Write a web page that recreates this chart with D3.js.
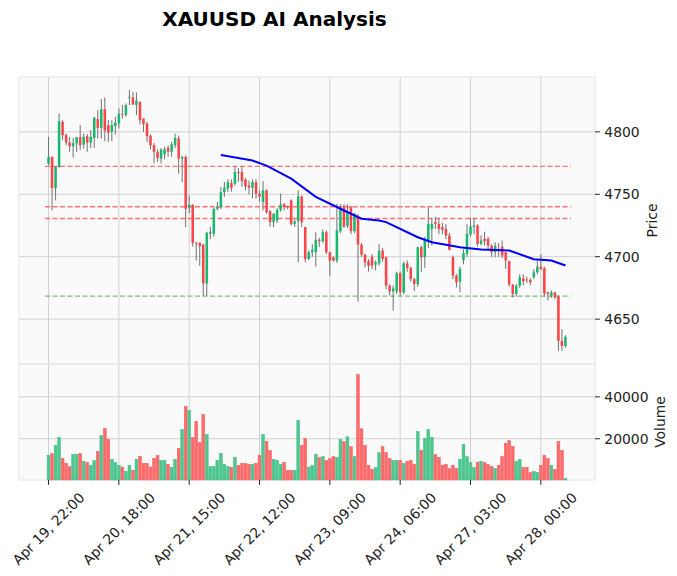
<!DOCTYPE html>
<html><head><meta charset="utf-8">
<script src="https://cdn.jsdelivr.net/npm/d3@7"></script>
<style>body{margin:0;background:#fff}svg{display:block}text{font-family:"DejaVu Sans",sans-serif}</style>
</head><body><div id="chart"></div>
<script>
const opens  = [4774.6,4779.9,4755,4771.9,4808.1,4797.4,4791.4,4788.5,4790.6,4795.7,4789.8,4796.5,4791.4,4795.2,4810.2,4803.2,4818.2,4805.4,4800,4804.6,4806.7,4814.2,4813.4,4827.4,4827.6,4821.5,4824.1,4810.7,4806.7,4796.8,4789.3,4784,4778.6,4782,4787.4,4784,4789.3,4794.7,4778.6,4779.9,4739.5,4741.6,4711.1,4711,4709.7,4678.6,4718.3,4718.3,4738.4,4739.7,4751.8,4754.5,4759,4758.5,4767.9,4767.9,4761.7,4757.2,4755.3,4759.8,4750.5,4743.8,4753.1,4736.5,4727.7,4729,4737.6,4741.9,4740.5,4745.1,4726.3,4728.5,4748.3,4723.7,4698.2,4703.6,4703.6,4713.7,4712.4,4719.6,4703.6,4699.5,4696.9,4720.4,4740.3,4724.5,4739.7,4720.5,4731.7,4709.7,4701.7,4696.3,4700,4693.6,4694.7,4704.9,4699.6,4676.8,4672.2,4672.2,4686.7,4671.4,4694.7,4691,4682.1,4678.1,4707.6,4699.6,4712.9,4722.3,4727.7,4726.3,4723.7,4722.3,4717,4699.6,4684.8,4680,4697.4,4702.2,4717.8,4723.7,4725,4710.3,4714.3,4714.3,4708.9,4703.6,4706.2,4708.1,4703.6,4696.3,4677.6,4670.1,4676.8,4682.7,4681.8,4681.3,4683.5,4687.5,4692,4691,4671.4,4668.7,4671.4,4668,4632.6,4628.5];
const highs  = [4796,4780.5,4772,4814.8,4809.4,4798.7,4796,4795.2,4796,4805.4,4798.7,4798.2,4801.4,4812,4817.4,4826.3,4827.6,4809.4,4809.4,4812,4818.8,4821.5,4822.8,4833.5,4832.2,4831.6,4824.1,4810.7,4808,4798,4791,4786,4787,4788,4789,4792,4798.6,4797,4781,4781,4749,4742,4712,4711.5,4710.3,4720,4724,4738.8,4743.8,4755.8,4760,4762,4762,4772.4,4771,4772.4,4763,4761,4762,4762,4753,4760.6,4754,4737,4735,4739,4750.5,4743,4741,4746,4730,4753.1,4749,4724,4705,4710,4719.6,4715,4722,4721,4704,4700,4742.4,4742,4742,4742,4741,4735,4734,4711,4702,4698,4702,4697,4710.3,4707,4700,4678,4677,4688,4688,4696,4697,4692,4683,4708,4709,4716,4739.7,4731,4732,4731,4727,4726,4719,4701,4686,4692,4706,4726,4731.2,4731,4726,4717,4720,4716,4710,4711.6,4711,4713,4704,4697,4678,4678,4686,4686,4684,4683,4690,4697,4702,4692,4672,4673,4672,4669,4642,4637];
const lows   = [4773.2,4737,4745.1,4771.1,4793.3,4789.3,4784,4779.4,4784,4785.3,4786.6,4784,4787.2,4787.2,4794.7,4794.7,4792.5,4792,4792.5,4797.9,4802.7,4810.7,4812.1,4821.5,4821.5,4813.4,4805.9,4800,4792,4786,4774.6,4776,4774.6,4778,4780,4780,4787,4766.5,4759.8,4723.7,4735,4708,4696.9,4692.8,4668.7,4668.7,4714,4716,4737,4738,4748,4752,4752,4757,4760,4756,4753,4750,4747,4746.4,4744,4737,4734.4,4724,4723.7,4727,4736,4737,4738,4725,4724,4695.5,4723.7,4695.5,4697,4700,4692,4708,4711,4702,4684.8,4696,4695,4719,4723,4723,4718,4719,4663.9,4700,4691.5,4688,4690,4689,4693,4696,4674,4669,4656.7,4670,4668.7,4670,4688,4680,4672.5,4676,4688,4691,4707,4709,4722,4718,4718,4714,4705,4682,4675.4,4671.4,4694,4700,4716,4718,4708,4709,4709,4706,4699.6,4699.6,4700,4699,4690,4676,4667.4,4668,4675,4677,4679,4677,4682,4686,4689,4668,4665,4667,4666,4624.5,4624.5,4627];
const closes = [4779.9,4755,4771.9,4808.6,4797.4,4791.4,4788.5,4790.9,4795.7,4789.3,4796,4791.4,4796,4811.3,4803.2,4818.2,4801.1,4799.2,4805.4,4807.3,4814.2,4813.7,4821.5,4828.2,4822,4825,4809.4,4806.2,4796.5,4789.3,4784,4779,4785.8,4786,4784,4790,4795.2,4778.6,4779.9,4738.4,4741.6,4711.1,4710.5,4708.4,4678.6,4719.1,4719.6,4738.4,4740.3,4751.8,4755.3,4759.8,4755.3,4767.9,4767,4760.6,4756.3,4755.3,4759.8,4750.5,4748,4753.1,4735.7,4727.7,4734.4,4737.6,4741.9,4739.7,4739.7,4726.3,4728.2,4748.3,4727.7,4698.2,4703.6,4705.4,4713.5,4712.4,4719.6,4703.6,4696.9,4696.9,4721,4738.4,4724.2,4735.7,4720.5,4734.4,4709.7,4701.7,4695.5,4692.8,4692.8,4695.5,4704.9,4698.2,4676.8,4672.2,4674.6,4686.7,4671.4,4694.7,4691,4682.1,4678.1,4707.6,4699.6,4714.3,4726.3,4726.3,4726.3,4722.3,4721.5,4717,4705.4,4684.8,4679.5,4690.2,4702.8,4718.3,4724.2,4725,4710.3,4713,4712.4,4708.9,4703.6,4708.9,4704.9,4700.9,4696.9,4677.6,4670.1,4676.8,4683.5,4680.2,4681,4679.5,4687.5,4692,4690.2,4670.6,4670,4671.4,4667.4,4632.6,4628.5,4635.8];
const volumes = [12056,12850,16817,20626,10628,8247,6660,12532,12532,13006,9200,8565,7296,9676,13960,21578,24910,19674,10152,8565,7296,6502,4438,7296,4914,10152,11580,8247,8247,6502,10628,12056,9676,9676,7772,6343,10152,15390,24435,35385,33481,20626,28244,18245,31577,22054,6818,6818,9676,13006,7772,6818,6343,11104,7296,8247,8247,7772,7772,8247,12056,22054,18721,14436,10152,9676,7772,8724,4914,4914,4914,28720,16817,20150,6500,7296,12532,10945,11422,9676,10469,11422,11104,19674,18562,20943,16182,11422,50620,24752,16817,7296,5391,6184,13324,16182,13324,10469,9676,9676,9676,8247,9200,9676,7772,23483,14436,20150,24435,20626,12374,11104,7296,7772,5708,7296,5708,10152,17294,11422,8724,6184,8724,9200,8724,7772,6818,5867,7296,11580,17770,19198,16341,9200,10152,6343,6343,3803,4438,3962,7296,12056,10469,7296,5391,18721,14436,1000];
const tickIndex  = [0,20,40,60,80,100,120,140];
const tickLabels = ["Apr 19, 22:00","Apr 20, 18:00","Apr 21, 15:00","Apr 22, 12:00","Apr 23, 09:00","Apr 24, 06:00","Apr 27, 03:00","Apr 28, 00:00"];
const priceTicks  = [4650,4700,4750,4800];
const volumeTicks = [20000,40000];
const redLevels   = [4772.4,4740,4730.6];
const greenLevels = [4668.5];
const aiLineIndex = [49,58,62,69,76,83,89,94,96,105,109,117,123,131,138,143,147];
const aiLineValue = [4781.5,4777,4773,4762.5,4748,4738.4,4730.4,4729,4727.7,4715.6,4711.6,4707.6,4705.7,4705,4698,4697,4693];
const title = "XAUUSD AI Analysis";

const W=677,H=576, L=19, R=595, pTop=77, pBot=364, vTop=364, vBot=480, xPad=8.4;
const N = closes.length;
const svg = d3.select("#chart").append("svg").attr("width",W).attr("height",H);

const x = d3.scaleLinear().domain([-xPad, N-1+xPad]).range([L,R]);
const step = x(1)-x(0);
const minL = d3.min(lows), maxH = d3.max(highs), rng = maxH-minL;
const y = d3.scaleLinear().domain([minL-0.05*rng, maxH+0.05*rng]).range([pBot,pTop]);
const yv = d3.scaleLinear().domain([0.3*d3.min(volumes), 1.1*d3.max(volumes)]).range([vBot,vTop]);

const up='#19b76f', down='#fe4446', wick='#717171';
const vup='#4dc790', vdown='#fd6b6c';

svg.append("rect").attr("x",L).attr("y",pTop).attr("width",R-L).attr("height",pBot-pTop).attr("fill","#fafafa");
svg.append("rect").attr("x",L).attr("y",vTop).attr("width",R-L).attr("height",vBot-vTop).attr("fill","#fafafa");

const grid = svg.append("g").attr("stroke","#d0d0d0").attr("stroke-width",1);
tickIndex.forEach(i=>{
  grid.append("line").attr("x1",x(i)).attr("x2",x(i)).attr("y1",pTop).attr("y2",pBot);
  grid.append("line").attr("x1",x(i)).attr("x2",x(i)).attr("y1",vTop).attr("y2",vBot);
});
priceTicks.forEach(p=>grid.append("line").attr("x1",L).attr("x2",R).attr("y1",y(p)).attr("y2",y(p)));
volumeTicks.forEach(v=>grid.append("line").attr("x1",L).attr("x2",R).attr("y1",yv(v)).attr("y2",yv(v)));

svg.append("rect").attr("x",L).attr("y",pTop).attr("width",R-L).attr("height",pBot-pTop).attr("fill","none").attr("stroke","#e4e4e4");
svg.append("rect").attr("x",L).attr("y",vTop).attr("width",R-L).attr("height",vBot-vTop).attr("fill","none").attr("stroke","#e4e4e4");

const lv = svg.append("g").attr("stroke-width",1.3).attr("stroke-dasharray","5,2.5").attr("fill","none");
redLevels.forEach(p=>lv.append("line").attr("x1",x(-1)).attr("x2",x(N+0.5)).attr("y1",y(p)).attr("y2",y(p)).attr("stroke","#fd7272"));
greenLevels.forEach(p=>lv.append("line").attr("x1",x(-1)).attr("x2",x(N+0.5)).attr("y1",y(p)).attr("y2",y(p)).attr("stroke","#7dbd7d"));

const cg = svg.append("g");
const bw = step*0.72;
for(let i=0;i<N;i++){
  const isUp = closes[i]>=opens[i];
  cg.append("line").attr("x1",x(i)).attr("x2",x(i)).attr("y1",y(highs[i])).attr("y2",y(lows[i])).attr("stroke",wick).attr("stroke-width",1);
  const t=y(Math.max(opens[i],closes[i])), b=y(Math.min(opens[i],closes[i]));
  cg.append("rect").attr("x",x(i)-bw/2).attr("y",t).attr("width",bw).attr("height",Math.max(b-t,0.8)).attr("fill",isUp?up:down);
}
const vg = svg.append("g");
const vw = step*0.8;
for(let i=0;i<N;i++){
  const isUp = closes[i]>=opens[i];
  const t=yv(volumes[i]);
  vg.append("rect").attr("x",x(i)-vw/2).attr("y",t).attr("width",vw).attr("height",Math.max(vBot-t,0)).attr("fill",isUp?vup:vdown).attr("stroke",isUp?'#3fbd83':'#f85a5b').attr("stroke-width",0.5);
}

svg.append("path").datum(aiLineIndex.map((d,k)=>[d,aiLineValue[k]]))
  .attr("d", d3.line().x(d=>x(d[0])).y(d=>y(d[1])))
  .attr("fill","none").attr("stroke","#0000ff").attr("stroke-width",2);

const fs=13.9;
const ax = svg.append("g").attr("font-size",fs).attr("fill","#222");
priceTicks.forEach(p=>{
  ax.append("line").attr("x1",R).attr("x2",R+4.9).attr("y1",y(p)).attr("y2",y(p)).attr("stroke","#222").attr("stroke-width",1);
  ax.append("text").attr("x",R+9.3).attr("y",y(p)).attr("dy","0.36em").text(p);
});
volumeTicks.forEach(v=>{
  ax.append("line").attr("x1",R).attr("x2",R+4.9).attr("y1",yv(v)).attr("y2",yv(v)).attr("stroke","#222").attr("stroke-width",1);
  ax.append("text").attr("x",R+9.3).attr("y",yv(v)).attr("dy","0.36em").text(v);
});
tickIndex.forEach((i,k)=>{
  ax.append("line").attr("x1",x(i)).attr("x2",x(i)).attr("y1",vBot).attr("y2",vBot+4.9).attr("stroke","#222").attr("stroke-width",1);
  const t = ax.append("text").attr("text-anchor","middle").attr("dy","0.35em").text(tickLabels[k]);
  const len = t.node().getComputedTextLength();
  const half = (len + fs*1.17)/(2*Math.SQRT2);
  t.attr("transform",`translate(${x(i)},${vBot+9.3+half}) rotate(-45)`);
});
ax.append("text").attr("text-anchor","middle").attr("transform",`translate(657,${(pTop+pBot)/2}) rotate(-90)`).text("Price");
ax.append("text").attr("text-anchor","middle").attr("transform",`translate(665,${(vTop+vBot)/2}) rotate(-90)`).text("Volume");
svg.append("text").attr("x",274.5).attr("y",26).attr("text-anchor","middle").attr("font-size",20).attr("font-weight","bold").attr("fill","#000").text(title);
</script></body></html>
